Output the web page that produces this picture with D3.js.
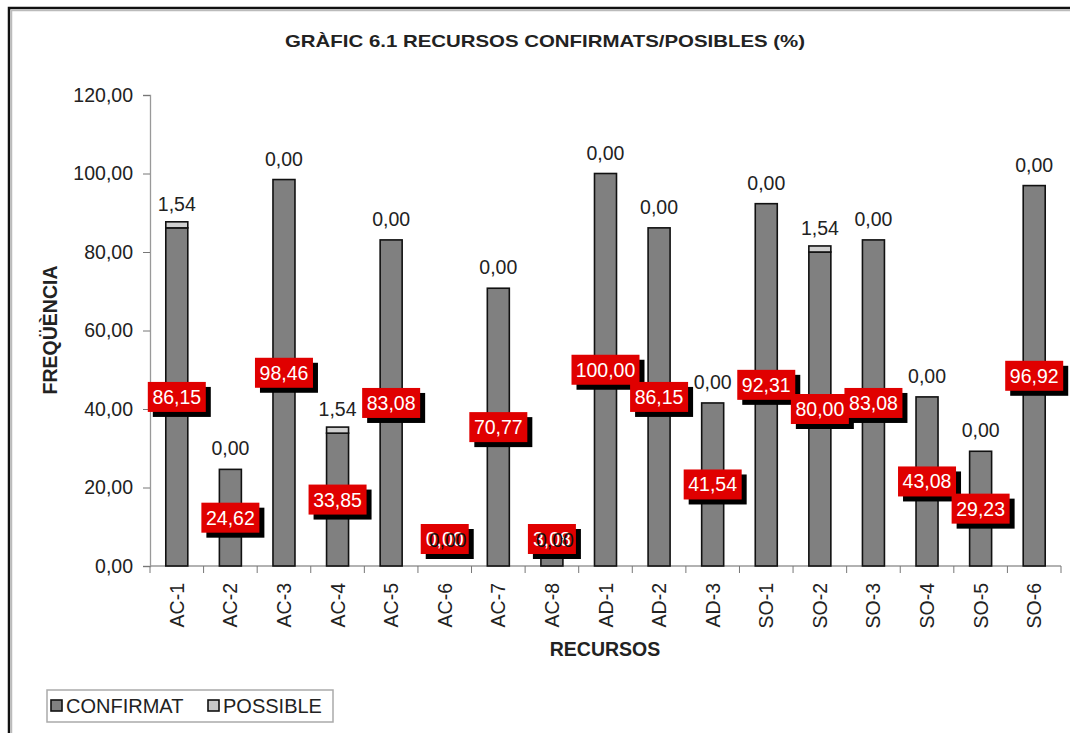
<!DOCTYPE html>
<html><head><meta charset="utf-8">
<script src="https://cdn.jsdelivr.net/npm/d3@7"></script>
<style>body{margin:0;background:#fff}svg{display:block;font-family:"Liberation Sans",Arial,sans-serif}</style>
</head><body>
<svg id="c" width="1070" height="733"></svg>
<script>
const categories = ["AC-1","AC-2","AC-3","AC-4","AC-5","AC-6","AC-7","AC-8","AD-1","AD-2","AD-3","SO-1","SO-2","SO-3","SO-4","SO-5","SO-6"];
const confirmat = [86.15,24.62,98.46,33.85,83.08,0.00,70.77,3.08,100.00,86.15,41.54,92.31,80.00,83.08,43.08,29.23,96.92];
const possible  = [1.54,0.00,0.00,1.54,0.00,0.00,0.00,0.00,0.00,0.00,0.00,0.00,1.54,0.00,0.00,0.00,0.00];
const yTicks = [0,20,40,60,80,100,120];
const seriesNames = ["CONFIRMAT","POSSIBLE"];

const fmt = v => v.toFixed(2).replace(".", ",");
const svg = d3.select("#c");
const FS = 19.5;

// frame
svg.append("path").attr("d","M9,733 V8 H1070").attr("fill","none").attr("stroke","#111").attr("stroke-width",2.5);
svg.append("path").attr("d","M11.5,733 V10.5 H1070").attr("fill","none").attr("stroke","#bbb").attr("stroke-width",1.5);

const x0 = 150, x1 = 1061, yTop = 95, yBot = 566;
const x = d3.scaleBand().domain(categories).range([x0, x1]).paddingInner(0).paddingOuter(0);
const y = d3.scaleLinear().domain([0,120]).range([yBot, yTop]);
const bw = 22;

// title
svg.append("text").attr("x",545).attr("y",47).attr("text-anchor","middle")
  .attr("font-weight","bold").attr("font-size",17).attr("fill","#222")
  .attr("textLength",520).attr("lengthAdjust","spacingAndGlyphs")
  .text("GRÀFIC 6.1 RECURSOS CONFIRMATS/POSIBLES (%)");

// y axis
const yAxis = svg.append("g").attr("transform",`translate(${x0},0)`)
  .call(d3.axisLeft(y).tickValues(yTicks).tickFormat(fmt).tickSize(7).tickPadding(10));
yAxis.select(".domain").attr("stroke","#999").attr("stroke-width",1.3);
yAxis.selectAll(".tick line").attr("stroke","#777");
yAxis.selectAll(".tick text").attr("font-size",FS).attr("fill","#222").attr("font-family","Liberation Sans, Arial, sans-serif");

// x axis
const xAxisG = svg.append("g").attr("transform",`translate(0,${yBot})`);
xAxisG.append("line").attr("x1",x0).attr("x2",x1).attr("y1",0).attr("y2",0).attr("stroke","#999").attr("stroke-width",1.3);
const bounds = categories.map(c => x(c)).concat([x1]);
xAxisG.selectAll("line.tk").data(bounds).join("line").attr("class","tk")
  .attr("x1",d=>d).attr("x2",d=>d).attr("y1",0).attr("y2",7).attr("stroke","#777");
xAxisG.selectAll("text.cat").data(categories).join("text").attr("class","cat")
  .attr("transform",d=>`translate(${x(d)+x.bandwidth()/2+7},17) rotate(-90)`)
  .attr("text-anchor","end").attr("font-size",FS).attr("fill","#222").text(d=>d);

// axis titles
svg.append("text").attr("transform","translate(57,330) rotate(-90)").attr("text-anchor","middle")
  .attr("font-weight","bold").attr("font-size",19.5).attr("fill","#222").text("FREQÜÈNCIA");
svg.append("text").attr("x",605).attr("y",656).attr("text-anchor","middle")
  .attr("font-weight","bold").attr("font-size",19.5).attr("fill","#222").text("RECURSOS");

// bars
const data = categories.map((c,i)=>({c, a:confirmat[i], b:possible[i]}));
const bars = svg.append("g");
bars.selectAll("rect.conf").data(data).join("rect").attr("class","conf")
  .attr("x",d=>x(d.c)+x.bandwidth()/2-bw/2).attr("width",bw)
  .attr("y",d=>y(d.a)).attr("height",d=>yBot-y(d.a))
  .attr("fill","#808080").attr("stroke","#111").attr("stroke-width",1.6);
bars.selectAll("rect.pos").data(data.filter(d=>d.b>0)).join("rect").attr("class","pos")
  .attr("x",d=>x(d.c)+x.bandwidth()/2-bw/2).attr("width",bw)
  .attr("y",d=>y(d.a+d.b)).attr("height",d=>y(d.a)-y(d.a+d.b))
  .attr("fill","#d0d0d0").attr("stroke","#111").attr("stroke-width",1.6);

// possible labels (black)
svg.append("g").selectAll("text").data(data.filter(d=>d.a>=5)).join("text")
  .attr("x",d=>x(d.c)+x.bandwidth()/2).attr("y",d=>y(d.a+d.b/2)-14)
  .attr("text-anchor","middle").attr("font-size",FS).attr("fill","#222").text(d=>fmt(d.b));

// confirmed labels (red boxes)
const lg = svg.append("g");
data.forEach(d=>{
  const cx = x(d.c)+x.bandwidth()/2;
  let cy = y(d.a/2);
  cy = Math.min(cy, yBot-27);
  const t = fmt(d.a);
  const w = t.length*10+8, h = 30;
  const g = lg.append("g");
  g.append("rect").attr("x",cx-w/2+5).attr("y",cy-h/2+5).attr("width",w).attr("height",h).attr("fill","#000");
  g.append("rect").attr("x",cx-w/2).attr("y",cy-h/2).attr("width",w).attr("height",h).attr("fill","#e00000");
  g.append("text").attr("x",cx).attr("y",cy+7).attr("text-anchor","middle").attr("font-size",FS).attr("fill","#fff").text(t);
});
// zero possible labels drawn over the boxes for near-zero bars (as in reference)
svg.append("g").selectAll("text").data(data.filter(d=>d.a<5)).join("text")
  .attr("x",d=>x(d.c)+x.bandwidth()/2+3).attr("y",d=>yBot-19)
  .attr("text-anchor","middle").attr("font-size",FS).attr("fill","#111").text(d=>fmt(d.b));

// legend
const leg = svg.append("g");
leg.append("rect").attr("x",47).attr("y",690).attr("width",286).attr("height",32).attr("fill","#fff").attr("stroke","#aaa").attr("stroke-width",1.5);
const legX = [51, 208];
seriesNames.forEach((n,i)=>{
  leg.append("rect").attr("x",legX[i]).attr("y",700).attr("width",11).attr("height",11)
    .attr("fill", i===0?"#808080":"#c8c8c8").attr("stroke","#111").attr("stroke-width",1.6);
  leg.append("text").attr("x",legX[i]+15).attr("y",713).attr("font-size",20).attr("fill","#222").text(n);
});
</script>
</body></html>
